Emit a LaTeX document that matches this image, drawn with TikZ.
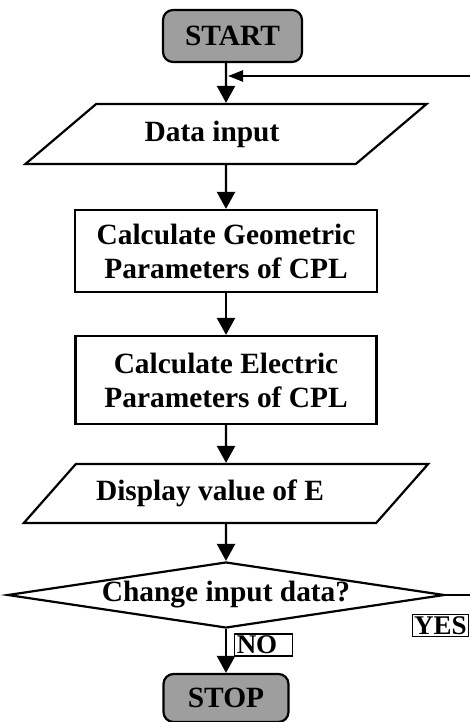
\documentclass[tikz,border=0pt]{standalone}
\usepackage{fontspec}
\setmainfont{Liberation Serif}
\usetikzlibrary{shapes.geometric,arrows.meta}
\definecolor{termgray}{RGB}{158,158,158}

\tikzstyle{every node}=[font={\bfseries\fontsize{29.4}{34}\selectfont}, line width=2.2pt, inner sep=0pt]
\tikzstyle{term}=[draw, fill=termgray, rounded corners=10pt]
\tikzstyle{io}=[draw, trapezium, trapezium left angle=31, trapezium right angle=149, trapezium stretches=true]
\tikzstyle{proc}=[draw, align=center]
\tikzstyle{decide}=[draw, diamond, shape aspect=6.6]
\tikzstyle{tag}=[draw, line width=1.2pt, inner sep=2pt, font={\bfseries\fontsize{27}{30}\selectfont}]
\tikzstyle{flow}=[line width=2.4pt, -{Triangle[length=17pt,width=18pt]}]
\tikzstyle{back}=[line width=2.4pt, -{Triangle[length=15pt,width=11pt]}]

\begin{document}
\begin{tikzpicture}[x=1pt,y=-1pt]
    \useasboundingbox (0,0) rectangle (470,722);
    \node [term, minimum width=139pt, minimum height=52pt] (start) at (232.5,36) {START};
    \node [io, minimum width=402pt, minimum height=60pt] (input) at (226,134) {Data input\hspace*{28pt}};
    \node [proc, minimum width=302pt, minimum height=82pt] (geom) at (226,251) {Calculate Geometric\\Parameters of CPL};
    \node [proc, minimum width=301pt, minimum height=88pt] (elec) at (226,380) {Calculate Electric\\Parameters of CPL};
    \node [io, minimum width=405pt, minimum height=59pt] (show) at (226,493.5) {Display value of E\hspace*{32pt}};
    \node [decide, minimum width=437pt, minimum height=66pt] (change) at (226,595) {Change input data?};
    \node [term, minimum width=125pt, minimum height=48pt] (stop) at (226,698) {STOP};
    \node [tag] (yes) at (440.5,625.5) {YES};
    \node [tag] (no) at (263.5,645) {NO\hspace*{13pt}};
    \coordinate (merge) at (228,76);
    \coordinate (turn) at (490,76);

    \draw [flow] (start.south -| input) -- (input.north);
    \draw [flow] (input) -- (geom);
    \draw [flow] (geom) -- (elec);
    \draw [flow] (elec) -- (show);
    \draw [flow] (show) -- (change);
    \draw [flow] (change) -- (stop);
    \draw [back] (change.east) -| (turn) -- (merge);
\end{tikzpicture}
\end{document}
